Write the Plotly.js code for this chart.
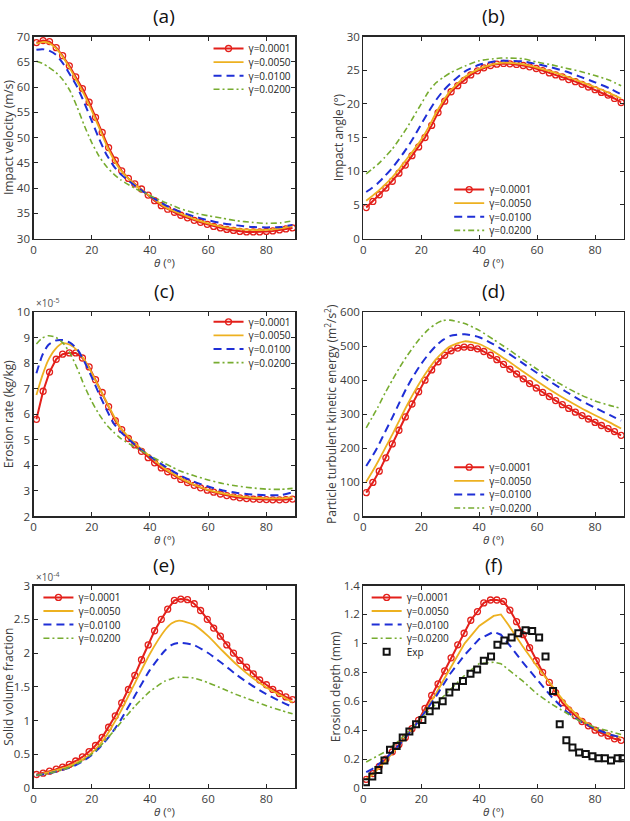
<!DOCTYPE html>
<html>
<head>
<meta charset="utf-8">
<script src="https://cdn.plot.ly/plotly-3.0.1.min.js"></script>
<style>html,body{margin:0;padding:0;background:#fff;}#chart{width:630px;height:821px;}</style>
</head>
<body>
<div id="chart"></div>
<script>
// ---------- DATA ----------
// theta grid of the marked series (gamma = 0.0001)
const thetaMarked = [1.0, 3.3, 5.5, 7.8, 10.0, 12.3, 14.5, 16.8, 19.1, 21.3, 23.6, 25.8, 28.1, 30.3, 32.6, 34.8, 37.1, 39.4, 41.6, 43.9, 46.1, 48.4, 50.6, 52.9, 55.2, 57.4, 59.7, 61.9, 64.2, 66.4, 68.7, 70.9, 73.2, 75.5, 77.7, 80.0, 82.2, 84.5, 86.7, 89.0];
// theta grid of the plain line series
const thetaLine = [1, 3, 5, 7.5, 10, 12.5, 15, 17.5, 20, 22.5, 25, 27.5, 30, 35, 40, 45, 47.5, 50, 55, 60, 65, 70, 75, 80, 85, 89];

const seriesNames = ['γ=0.0001', 'γ=0.0050', 'γ=0.0100', 'γ=0.0200'];

// (a) Impact velocity (m/s)
const velG1 = [68.8, 69.2, 69.0, 67.8, 66.2, 64.2, 62.0, 59.7, 57.0, 54.0, 51.0, 48.0, 45.5, 43.4, 41.9, 40.8, 39.8, 38.6, 37.5, 36.5, 35.8, 35.2, 34.6, 34.1, 33.6, 33.2, 32.8, 32.4, 32.1, 31.8, 31.6, 31.4, 31.3, 31.3, 31.3, 31.4, 31.5, 31.7, 31.9, 32.1];
const velG50 = [68.6, 68.9, 68.8, 67.8, 66.0, 63.7, 61.1, 58.4, 55.3, 52.0, 48.6, 45.7, 43.5, 40.6, 38.4, 36.3, 35.6, 35.0, 33.9, 33.0, 32.3, 31.9, 31.7, 31.7, 32.0, 32.5];
const velG100 = [67.4, 67.5, 67.3, 66.5, 64.8, 62.5, 60.0, 56.8, 53.3, 49.8, 46.7, 44.4, 42.7, 40.4, 38.4, 36.7, 36.0, 35.4, 34.4, 33.6, 33.0, 32.6, 32.3, 32.2, 32.3, 32.7];
const velG200 = [65.1, 64.7, 64.0, 63.0, 61.5, 59.3, 56.0, 52.3, 49.0, 46.3, 44.3, 42.8, 41.6, 39.9, 38.5, 37.2, 36.6, 36.0, 35.1, 34.5, 34.0, 33.5, 33.2, 33.0, 33.1, 33.5];

// (b) Impact angle (deg)
const angG1 = [4.6, 5.5, 6.5, 7.5, 8.5, 9.7, 10.9, 12.3, 13.6, 15.0, 16.8, 18.7, 20.4, 21.8, 22.7, 23.5, 24.3, 24.9, 25.35, 25.7, 25.9, 26.0, 25.95, 25.85, 25.7, 25.5, 25.25, 24.95, 24.6, 24.3, 24.0, 23.6, 23.3, 22.9, 22.5, 22.1, 21.7, 21.3, 20.8, 20.2];
const angG50 = [5.6, 6.3, 7.0, 8.0, 9.1, 10.4, 11.8, 13.2, 14.7, 16.5, 18.6, 20.4, 21.9, 24.0, 25.2, 25.9, 26.1, 26.1, 25.9, 25.4, 24.8, 24.1, 23.3, 22.5, 21.6, 20.8];
const angG100 = [6.9, 7.5, 8.2, 9.3, 10.5, 11.9, 13.4, 15.1, 17.0, 18.8, 20.5, 21.9, 23.0, 24.8, 25.8, 26.3, 26.4, 26.4, 26.3, 25.9, 25.4, 24.8, 24.0, 23.2, 22.3, 21.4];
const angG200 = [9.6, 10.3, 11.0, 12.1, 13.3, 14.8, 16.4, 18.2, 20.0, 21.8, 23.1, 23.9, 24.6, 25.6, 26.4, 26.7, 26.8, 26.8, 26.7, 26.2, 25.8, 25.3, 24.8, 24.2, 23.5, 22.7];

// (c) Erosion rate (kg/kg), in units of 1e-5
const eroG1 = [5.8, 6.9, 7.65, 8.15, 8.35, 8.4, 8.4, 8.2, 7.85, 7.35, 6.85, 6.3, 5.75, 5.4, 5.05, 4.8, 4.55, 4.3, 4.1, 3.9, 3.75, 3.6, 3.45, 3.33, 3.22, 3.12, 3.03, 2.95, 2.88, 2.82, 2.77, 2.73, 2.7, 2.68, 2.67, 2.66, 2.65, 2.65, 2.66, 2.68];
const eroG50 = [6.75, 7.5, 8.1, 8.55, 8.78, 8.72, 8.5, 8.12, 7.62, 7.05, 6.5, 5.95, 5.45, 4.85, 4.35, 3.88, 3.7, 3.53, 3.25, 3.04, 2.9, 2.8, 2.74, 2.71, 2.71, 2.76];
const eroG100 = [7.6, 8.3, 8.7, 8.88, 8.9, 8.8, 8.55, 8.05, 7.45, 6.8, 6.2, 5.65, 5.3, 4.8, 4.35, 3.97, 3.8, 3.63, 3.37, 3.17, 3.02, 2.92, 2.86, 2.83, 2.84, 2.95];
const eroG200 = [8.75, 8.98, 9.07, 9.02, 8.8, 8.4, 7.8, 7.1, 6.5, 6.0, 5.6, 5.3, 5.05, 4.7, 4.38, 4.08, 3.94, 3.8, 3.6, 3.43, 3.29, 3.19, 3.12, 3.07, 3.06, 3.1];

// (d) Particle turbulent kinetic energy (m2/s2)
const tkeG1 = [70, 100, 133, 172, 213, 253, 292, 330, 366, 400, 430, 454, 473, 486, 494, 497, 496, 492, 484, 473, 460, 446, 432, 418, 404, 390, 377, 364, 352, 340, 328, 317, 306, 296, 286, 276, 267, 258, 249, 238];
const tkeG50 = [102, 130, 160, 200, 240, 283, 325, 364, 400, 432, 460, 482, 499, 514, 506, 484, 470, 456, 426, 397, 369, 343, 319, 297, 276, 258];
const tkeG100 = [148, 175, 205, 248, 290, 335, 378, 415, 448, 476, 500, 518, 530, 535, 526, 505, 492, 479, 450, 421, 393, 366, 341, 319, 298, 281];
const tkeG200 = [260, 290, 320, 362, 400, 437, 470, 500, 527, 549, 565, 575, 576, 566, 546, 519, 505, 491, 461, 432, 404, 379, 357, 339, 326, 317];

// (e) Solid volume fraction, in units of 1e-4
const svfG1 = [0.2, 0.22, 0.25, 0.28, 0.31, 0.35, 0.4, 0.46, 0.54, 0.63, 0.75, 0.9, 1.07, 1.26, 1.46, 1.67, 1.9, 2.12, 2.33, 2.5, 2.65, 2.78, 2.8, 2.79, 2.73, 2.63, 2.5, 2.37, 2.25, 2.12, 2.0, 1.89, 1.79, 1.69, 1.6, 1.53, 1.46, 1.4, 1.35, 1.31];
const svfG50 = [0.19, 0.21, 0.23, 0.26, 0.29, 0.33, 0.38, 0.44, 0.52, 0.63, 0.77, 0.95, 1.14, 1.57, 1.99, 2.33, 2.44, 2.48, 2.42, 2.25, 2.03, 1.82, 1.64, 1.49, 1.37, 1.27];
const svfG100 = [0.19, 0.2, 0.21, 0.24, 0.27, 0.3, 0.35, 0.41, 0.49, 0.59, 0.71, 0.85, 1.01, 1.38, 1.75, 2.03, 2.12, 2.15, 2.12, 2.0, 1.84, 1.67, 1.52, 1.39, 1.28, 1.2];
const svfG200 = [0.19, 0.2, 0.21, 0.24, 0.27, 0.31, 0.36, 0.42, 0.5, 0.6, 0.72, 0.84, 0.97, 1.22, 1.43, 1.58, 1.62, 1.64, 1.63, 1.56, 1.47, 1.38, 1.3, 1.22, 1.15, 1.1];

// (f) Erosion depth (mm)
const depG1 = [0.06, 0.1, 0.15, 0.2, 0.25, 0.3, 0.35, 0.41, 0.47, 0.55, 0.64, 0.72, 0.81, 0.9, 0.99, 1.07, 1.16, 1.22, 1.28, 1.3, 1.3, 1.29, 1.23, 1.15, 1.06, 0.97, 0.88, 0.8, 0.73, 0.66, 0.59, 0.54, 0.5, 0.46, 0.43, 0.4, 0.38, 0.36, 0.34, 0.33];
const depG50 = [0.06, 0.09, 0.13, 0.18, 0.24, 0.3, 0.36, 0.42, 0.49, 0.57, 0.65, 0.74, 0.83, 1.0, 1.12, 1.19, 1.2, 1.13, 0.98, 0.84, 0.71, 0.58, 0.48, 0.41, 0.37, 0.35];
const depG100 = [0.11, 0.13, 0.16, 0.2, 0.25, 0.3, 0.36, 0.42, 0.49, 0.56, 0.63, 0.71, 0.79, 0.92, 1.03, 1.08, 1.06, 1.0, 0.87, 0.75, 0.63, 0.53, 0.46, 0.41, 0.37, 0.35];
const depG200 = [0.18, 0.2, 0.22, 0.25, 0.29, 0.33, 0.38, 0.43, 0.48, 0.53, 0.58, 0.63, 0.68, 0.78, 0.86, 0.87, 0.86, 0.82, 0.74, 0.65, 0.58, 0.52, 0.46, 0.42, 0.39, 0.37];
const expTheta = [0.9, 3.1, 5.2, 7.3, 9.2, 11.5, 13.6, 15.9, 18.2, 20.4, 22.9, 25.1, 27.4, 29.7, 32.0, 34.4, 37.0, 39.3, 41.6, 44.1, 46.3, 48.7, 51.2, 53.5, 56.0, 58.3, 60.7, 62.9, 65.5, 67.8, 70.1, 72.2, 74.5, 76.8, 79.1, 81.2, 83.4, 85.5, 87.8, 89.5];
const expDepth = [0.04, 0.08, 0.125, 0.19, 0.265, 0.29, 0.35, 0.39, 0.44, 0.47, 0.53, 0.57, 0.6, 0.66, 0.7, 0.74, 0.79, 0.82, 0.88, 0.91, 0.99, 1.02, 1.04, 1.07, 1.09, 1.085, 1.04, 0.91, 0.67, 0.44, 0.33, 0.28, 0.245, 0.235, 0.22, 0.205, 0.205, 0.19, 0.205, 0.205];

const panelLabels = ['(a)', '(b)', '(c)', '(d)', '(e)', '(f)'];
const xTitle = '<i>θ</i> (°)';
const yTitles = ['Impact velocity (m/s)', 'Impact angle (°)', 'Erosion rate (kg/kg)',
  'Particle turbulent kinetic energy (m<sup>2</sup>/s<sup>2</sup>)', 'Solid volume fraction', 'Erosion depth (mm)'];
const yRanges = [[30, 70], [0, 30], [2, 10], [0, 600], [0, 3], [0, 1.4]];
const yDticks = [5, 5, 1, 100, 0.5, 0.2];
const yExponents = [null, null, '×10<sup>-5</sup>', null, '×10<sup>-4</sup>', null];

// ---------- STYLE ----------
const COLORS = ['#e3201b', '#edb120', '#1f2fd6', '#77ac30'];
const AX = '#262626';
const TXT = '#3c3c3c';
const FONT = 'Open Sans, sans-serif';

const xDomains = [[0.0532, 0.4690], [0.5767, 0.9905]];
const yDomains = [[0.7095, 0.9555], [0.3709, 0.6200], [0.0402, 0.2868]];
const xTitleShift = [-14, -14, -14];

const panels = [
  [velG1, velG50, velG100, velG200],
  [angG1, angG50, angG100, angG200],
  [eroG1, eroG50, eroG100, eroG200],
  [tkeG1, tkeG50, tkeG100, tkeG200],
  [svfG1, svfG50, svfG100, svfG200],
  [depG1, depG50, depG100, depG200]
];

const legendPos = [
  {x: 0.331, y: 0.9586},
  {x: 0.713, y: 0.7868},
  {x: 0.331, y: 0.6257},
  {x: 0.713, y: 0.4486},
  {x: 0.061, y: 0.2900},
  {x: 0.582, y: 0.2900}
];
const LEGEND_PITCH = 13.6;

const traces = [];
const layout = {
  width: 630, height: 821, autosize: false,
  margin: {l: 0, r: 0, t: 0, b: 0, pad: 0},
  paper_bgcolor: '#ffffff', plot_bgcolor: '#ffffff',
  font: {family: FONT, size: 11, color: TXT},
  showlegend: true,
  annotations: []
};

panels.forEach((series, i) => {
  const n = i + 1;
  const xs = n === 1 ? 'x' : 'x' + n;
  const ys = n === 1 ? 'y' : 'y' + n;
  const lg = n === 1 ? 'legend' : 'legend' + n;
  const smooth = (n === 6) ? 'linear' : 'spline';
  const row = Math.floor(i / 2);
  const xd = xDomains[i % 2];
  const yd = yDomains[row];

  traces.push({
    x: thetaMarked, y: series[0], xaxis: xs, yaxis: ys, legend: lg,
    name: seriesNames[0], mode: 'lines+markers',
    line: {color: COLORS[0], width: 2},
    marker: {symbol: 'circle-open', size: 6, color: COLORS[0], line: {width: 1.3, color: COLORS[0]}}
  });
  traces.push({
    x: thetaLine, y: series[1], xaxis: xs, yaxis: ys, legend: lg,
    name: seriesNames[1], mode: 'lines',
    line: {color: COLORS[1], width: 1.8, shape: smooth, smoothing: 0.6}
  });
  traces.push({
    x: thetaLine, y: series[2], xaxis: xs, yaxis: ys, legend: lg,
    name: seriesNames[2], mode: 'lines',
    line: {color: COLORS[2], width: 2, dash: '8px,5px', shape: smooth, smoothing: 0.6}
  });
  traces.push({
    x: thetaLine, y: series[3], xaxis: xs, yaxis: ys, legend: lg,
    name: seriesNames[3], mode: 'lines',
    line: {color: COLORS[3], width: 1.6, dash: '6px,3px,2px,3px', shape: smooth, smoothing: 0.6}
  });
  if (n === 6) {
    traces.push({
      x: expTheta, y: expDepth, xaxis: xs, yaxis: ys, legend: lg,
      name: 'Exp', mode: 'markers',
      marker: {symbol: 'square-open', size: 6, color: '#111111', line: {width: 2, color: '#111111'}}
    });
  }

  layout[n === 1 ? 'xaxis' : 'xaxis' + n] = {
    domain: xd, anchor: ys, range: [0, 90], tick0: 0, dtick: 20,
    ticks: 'inside', ticklen: 4, tickwidth: 1, tickcolor: AX,
    showline: true, linecolor: AX, linewidth: 1.2, mirror: 'ticks',
    showgrid: false, zeroline: false, automargin: false, fixedrange: true,
    tickfont: {family: FONT, size: 11.5, color: TXT}
  };
  layout[n === 1 ? 'yaxis' : 'yaxis' + n] = {
    domain: yd, anchor: xs, range: yRanges[i], tick0: 0, dtick: yDticks[i],
    ticks: 'inside', ticklen: 4, tickwidth: 1, tickcolor: AX,
    showline: true, linecolor: AX, linewidth: 1.2, mirror: 'ticks',
    showgrid: false, zeroline: false, automargin: false, fixedrange: true,
    tickfont: {family: FONT, size: 11.5, color: TXT},
    title: {text: yTitles[i], font: {family: FONT, size: 12, color: TXT}, standoff: 0}
  };
  layout[lg] = Object.assign({
    bgcolor: 'rgba(255,255,255,0)', borderwidth: 0,
    font: {family: FONT, size: 10, color: '#222222'},
    itemwidth: 30, tracegroupgap: 0, xanchor: 'left', yanchor: 'top'
  }, legendPos[i]);

  // x-axis title, placed just under the tick labels
  layout.annotations.push({
    text: xTitle, xref: 'paper', yref: 'paper',
    x: (xd[0] + xd[1]) / 2, y: yd[0], xanchor: 'center', yanchor: 'top',
    yshift: xTitleShift[row], showarrow: false, font: {family: FONT, size: 11.5, color: TXT}
  });
  // panel label
  layout.annotations.push({
    text: panelLabels[i], xref: 'paper', yref: 'paper',
    x: (xd[0] + xd[1]) / 2, y: yd[1], xanchor: 'center', yanchor: 'bottom',
    yshift: 6, showarrow: false, font: {family: FONT, size: 19, color: '#111111'}
  });
  if (yExponents[i]) {
    layout.annotations.push({
      text: yExponents[i], xref: 'paper', yref: 'paper',
      x: xd[0], y: yd[1], xanchor: 'left', yanchor: 'bottom',
      showarrow: false, font: {family: FONT, size: 10, color: '#555555'}
    });
  }
});

function translateOf(el) {
  const t = (el && el.getAttribute && el.getAttribute('transform')) || '';
  const m = t.match(/translate\(\s*([-\d.eE]+)[\s,]+([-\d.eE]+)/);
  return m ? [parseFloat(m[1]), parseFloat(m[2])] : [0, 0];
}

// tighten the spacing between legend entries (MATLAB-style compact legend)
function compactLegends(gd) {
  const groups = gd.querySelectorAll('g.infolayer > g');
  groups.forEach(g => {
    const cls = g.getAttribute('class') || '';
    if (!/^legend\d*$/.test(cls)) return;
    const items = Array.from(g.querySelectorAll('g.traces')).map(el => {
      const own = translateOf(el);
      const par = translateOf(el.parentNode);
      return {el, own, abs: own[1] + par[1]};
    }).sort((a, b) => a.abs - b.abs);
    if (!items.length) return;
    const y0 = items[0].abs;
    items.forEach((it, k) => {
      const target = y0 + k * LEGEND_PITCH;
      it.el.setAttribute('transform', 'translate(' + it.own[0] + ',' + (it.own[1] + target - it.abs) + ')');
    });
  });
}

Plotly.newPlot('chart', traces, layout, {staticPlot: true, displayModeBar: false})
  .then(gd => compactLegends(gd));
</script>
</body>
</html>
